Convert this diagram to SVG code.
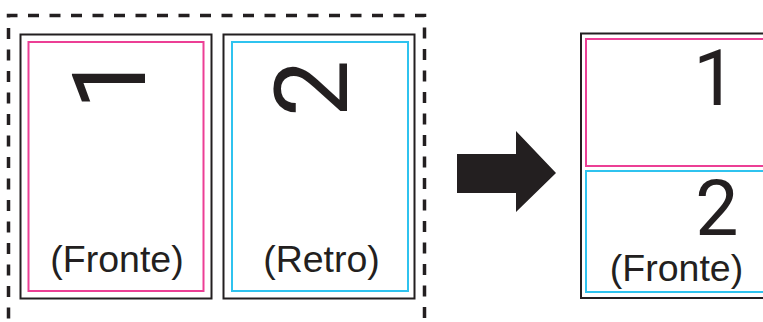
<svg xmlns="http://www.w3.org/2000/svg" width="763" height="322" viewBox="0 0 763 322">
<style>
.bg{fill:#ffffff}
.outer{fill:none;stroke:#231f20;stroke-width:2}
.pink{fill:none;stroke:#ec3f95;stroke-width:2}
.cyan{fill:none;stroke:#2fc3ef;stroke-width:2}
.dash{fill:none;stroke:#231f20;stroke-width:3.5;stroke-dasharray:11 10.5}
.lbl{font-family:"Liberation Sans",Arial,sans-serif;fill:#231f20;font-size:37.5px;text-anchor:middle}
.big{font-family:Roboto,"Liberation Sans",Arial,sans-serif;fill:#231f20}
.arrow{fill:#231f20}
</style>
<rect class="bg" x="0" y="0" width="763" height="322"/>
<g id="source-group">
  <path class="dash" d="M8.5,340 V15.5 H424.5 V340"/>
</g>
<g id="page-front">
  <rect class="outer" x="20.5" y="34.5" width="191" height="264"/>
  <rect class="pink" x="28.5" y="42" width="175" height="249"/>
  <text class="big" font-size="102" transform="translate(145,110) rotate(-90)">1</text>
  <text class="lbl" x="117" y="272">(Fronte)</text>
</g>
<g id="page-back">
  <rect class="outer" x="223.5" y="34.5" width="191" height="264"/>
  <rect class="cyan" x="232" y="42" width="176" height="249"/>
  <text class="big" font-size="102" transform="translate(347,117) rotate(-90)">2</text>
  <text class="lbl" x="321.5" y="272">(Retro)</text>
</g>
<g id="connectors">
  <polygon class="arrow" points="457,154 516,154 516,131 556,173 516,212 516,193 457,193"/>
</g>
<g id="result-page">
  <rect class="outer" x="581" y="33.5" width="240" height="264.5"/>
  <rect class="pink" x="586" y="39" width="230" height="127"/>
  <rect class="cyan" x="586" y="171" width="230" height="121"/>
  <text class="big" font-size="77" text-anchor="middle" x="715" y="105">1</text>
  <text class="big" font-size="77" text-anchor="middle" x="717" y="235">2</text>
  <text class="lbl" x="676.5" y="281">(Fronte)</text>
</g>
</svg>
